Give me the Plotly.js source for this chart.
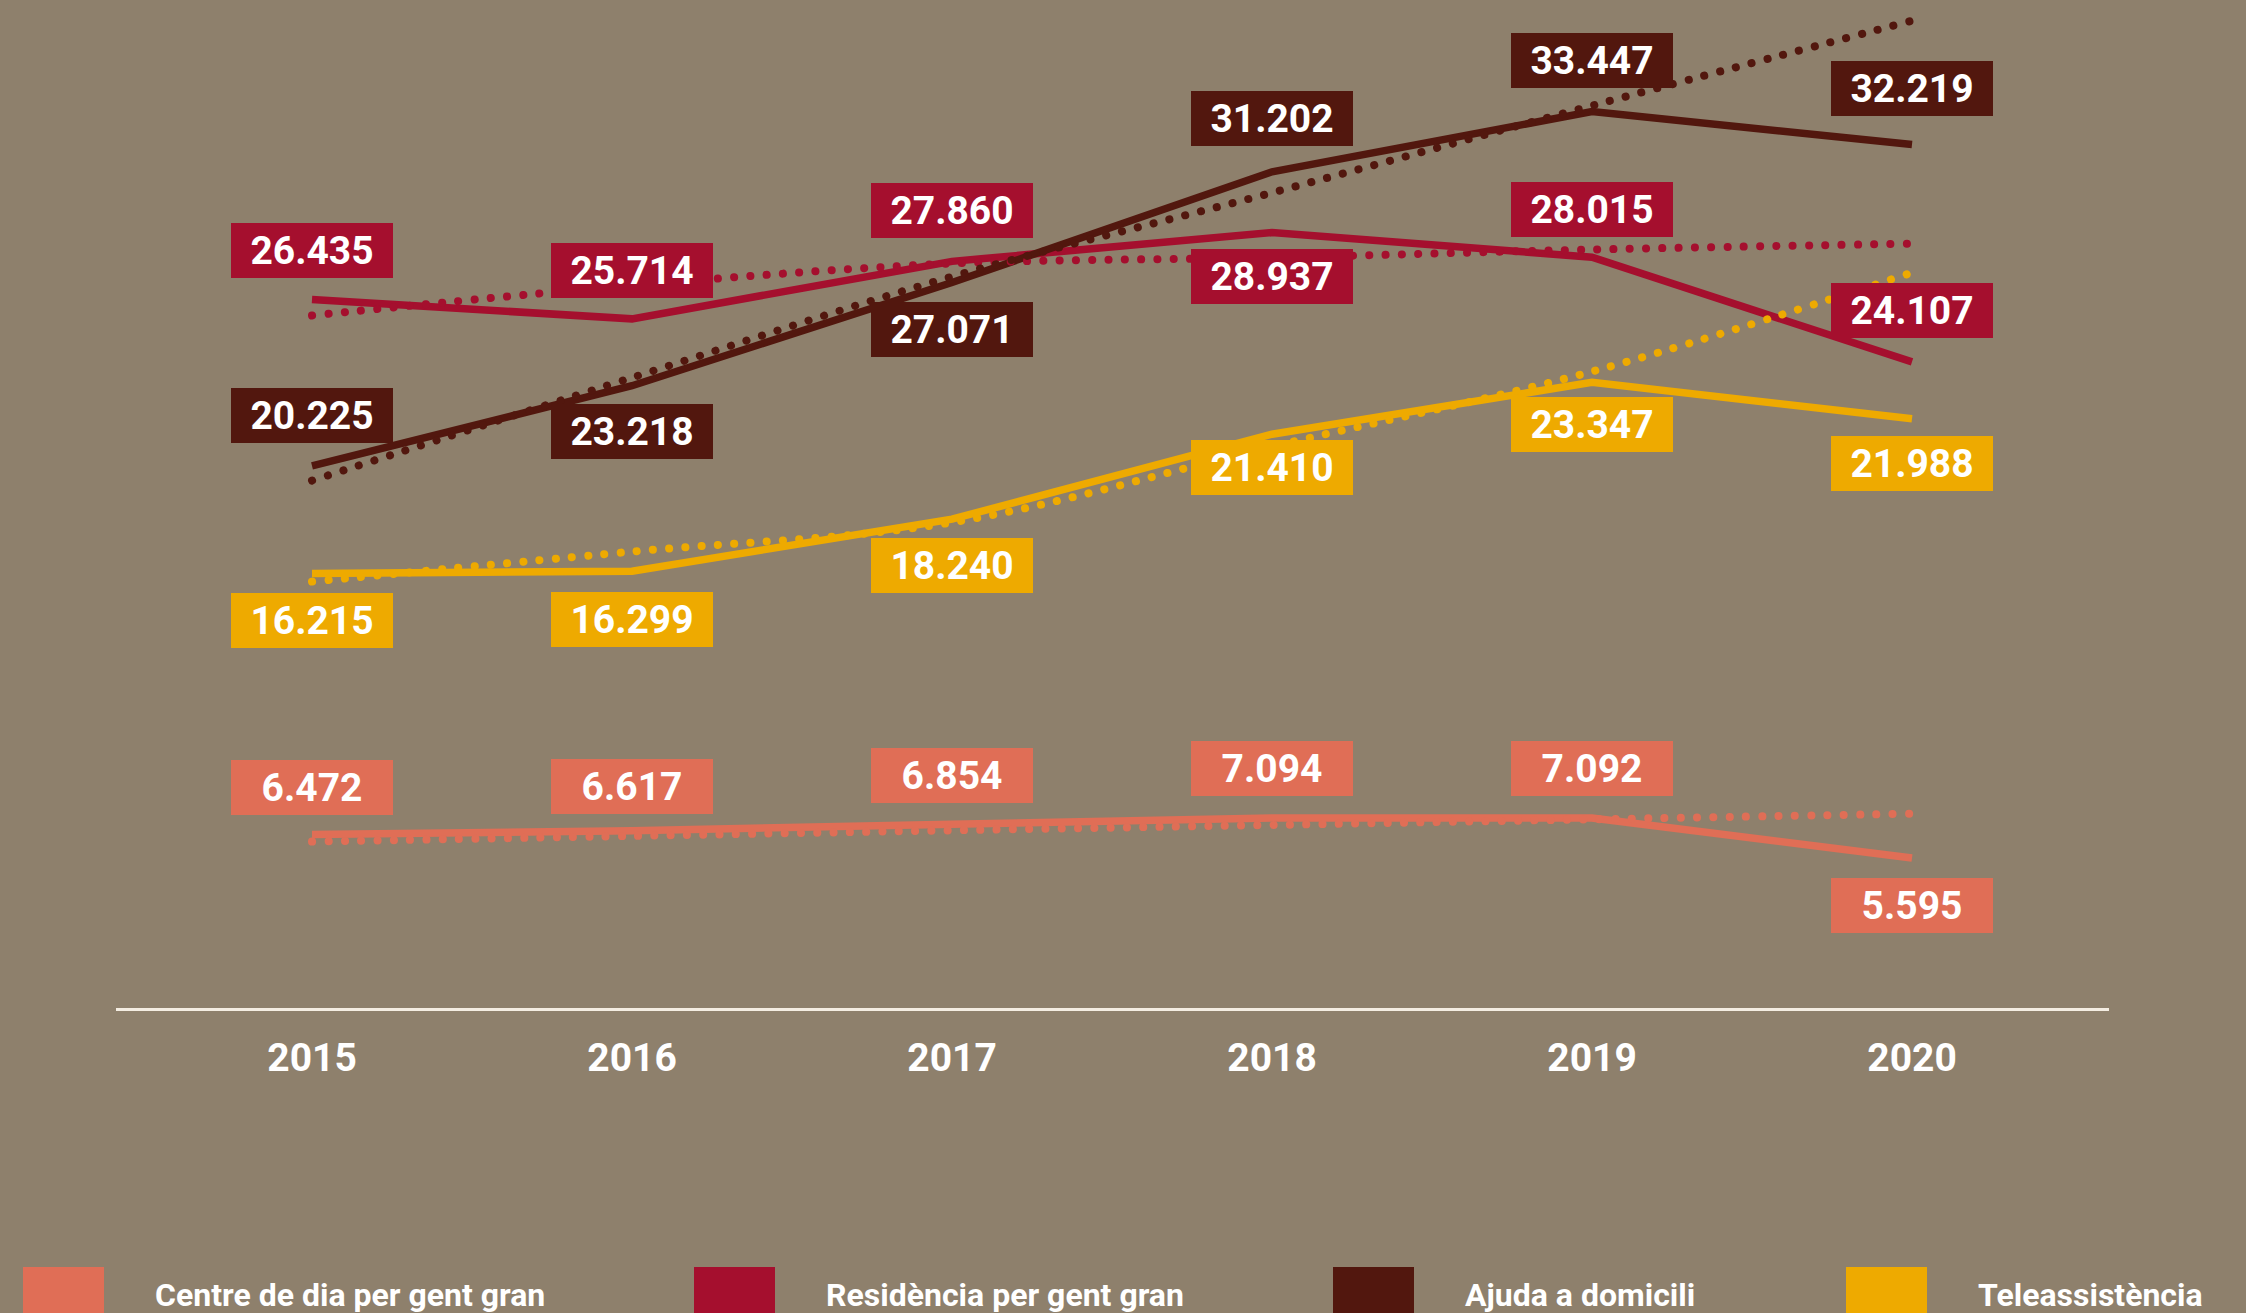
<!DOCTYPE html>
<html>
<head>
<meta charset="utf-8">
<script src="https://cdn.plot.ly/plotly-3.0.1.min.js"></script>
<style>
  html, body { margin: 0; padding: 0; background: #8e806c; }
  #chart { width: 2246px; height: 1313px; }
  /* round caps for the dotted trend lines (traces 5-8) */
  .scatterlayer .trace:nth-child(n+5) path.js-line { stroke-linecap: round; }
</style>
</head>
<body>
<div id="chart"></div>
<script>
// ---------- data ----------
const years = ['2015', '2016', '2017', '2018', '2019', '2020'];
const seriesNames = ['Centre de dia per gent gran', 'Residència per gent gran', 'Ajuda a domicili', 'Teleassistència'];
const centreDia   = [6472, 6617, 6854, 7094, 7092, 5595];
const residencia  = [26435, 25714, 27860, 28937, 28015, 24107];
const ajudaDom    = [20225, 23218, 27071, 31202, 33447, 32219];
const teleassist  = [16215, 16299, 18240, 21410, 23347, 21988];
// dotted trend lines, values per year
const centreTrend = [6210, 6420, 6630, 6830, 7040, 7250];
const residTrend  = [25840, 26960, 27780, 28000, 28300, 28520];
const ajudaTrend  = [19680, 23520, 27290, 30420, 33670, 36840];
const teleTrend   = [15910, 17030, 18120, 20950, 23750, 27440];

// ---------- styles / layout config ----------
const colors = ['#e06e56', '#a50f2e', '#52170e', '#eeaa00'];
const BG = '#8e806c';
const W = 2246, H = 1313;
const M = {l: 116, r: 137, t: 0, b: 305};
const plotW = W - M.l - M.r, plotH = H - M.t - M.b;
const pxPerUnit = 0.0268;            // px per unit value
const catPx = 320, firstCatPx = 312; // category spacing / first category x
// label vertical offsets (screen px, + = below the point)
const labelShift = [
  [-47, -44, -49, -49, -49, 47],
  [-49, -48, -51, 44, -48, -51],
  [-50, 46, 47, -53, -51, -56],
  [47, 48, 46, 33, 42, 45]
];
const legendBoxX = [23, 694, 1333, 1846];
const legendTextGap = 130;

const values = [centreDia, residencia, ajudaDom, teleassist];
const trends = [centreTrend, residTrend, ajudaTrend, teleTrend];

function fmt(v) {
  return String(v).replace(/\B(?=(\d{3})+(?!\d))/g, '.');
}
const px2paperX = p => (p - M.l) / plotW;
const px2paperY = p => (H - M.b - p) / plotH;

const data = [];
values.forEach((vals, i) => {
  data.push({
    type: 'scatter', mode: 'lines', x: years, y: vals, name: seriesNames[i],
    line: {color: colors[i], width: 7.5}, hoverinfo: 'skip', showlegend: false
  });
});
trends.forEach((vals, i) => {
  data.push({
    type: 'scatter', mode: 'lines', x: years, y: vals, name: seriesNames[i] + ' (tendència)',
    line: {color: colors[i], width: 8, dash: '0.1px,16.2px', shape: 'spline', smoothing: 1},
    hoverinfo: 'skip', showlegend: false
  });
});

const annotations = [];
values.forEach((vals, i) => {
  vals.forEach((v, j) => {
    annotations.push({
      xref: 'x', yref: 'y', x: j, y: v, yshift: -labelShift[i][j],
      text: fmt(v), showarrow: false, width: 162, height: 55,
      bgcolor: colors[i], borderwidth: 0, borderpad: 0,
      font: {family: 'Roboto, Arial, sans-serif', size: 39, color: '#ffffff', weight: 700},
      xanchor: 'center', yanchor: 'middle'
    });
  });
});
const shapes = [];
seriesNames.forEach((name, i) => {
  shapes.push({
    type: 'rect', xref: 'paper', yref: 'paper', layer: 'above',
    x0: px2paperX(legendBoxX[i]), x1: px2paperX(legendBoxX[i] + 81),
    y0: px2paperY(1267), y1: px2paperY(1330),
    fillcolor: colors[i], line: {width: 0}
  });
  annotations.push({
    xref: 'paper', yref: 'paper', x: px2paperX(legendBoxX[i] + legendTextGap), y: px2paperY(1295),
    xanchor: 'left', yanchor: 'middle', showarrow: false, text: name,
    font: {family: 'Roboto, Arial, sans-serif', size: 32, color: '#ffffff', weight: 700}
  });
});

const r0 = -(firstCatPx - M.l) / catPx;
const layout = {
  width: W, height: H, margin: M,
  paper_bgcolor: BG, plot_bgcolor: BG,
  showlegend: false, hovermode: false,
  xaxis: {
    type: 'category', categoryorder: 'array', categoryarray: years,
    range: [r0, r0 + plotW / catPx],
    showgrid: false, zeroline: false, showline: true, linecolor: '#f4ede2', linewidth: 3,
    ticks: '', ticklabelstandoff: 13,
    tickfont: {family: 'Roboto, Arial, sans-serif', size: 39, color: '#ffffff', weight: 700}
  },
  yaxis: {
    range: [0, plotH / pxPerUnit], visible: false, showgrid: false, zeroline: false
  },
  annotations: annotations,
  shapes: shapes
};

Plotly.newPlot('chart', data, layout, {staticPlot: true, displayModeBar: false});
</script>
</body>
</html>
